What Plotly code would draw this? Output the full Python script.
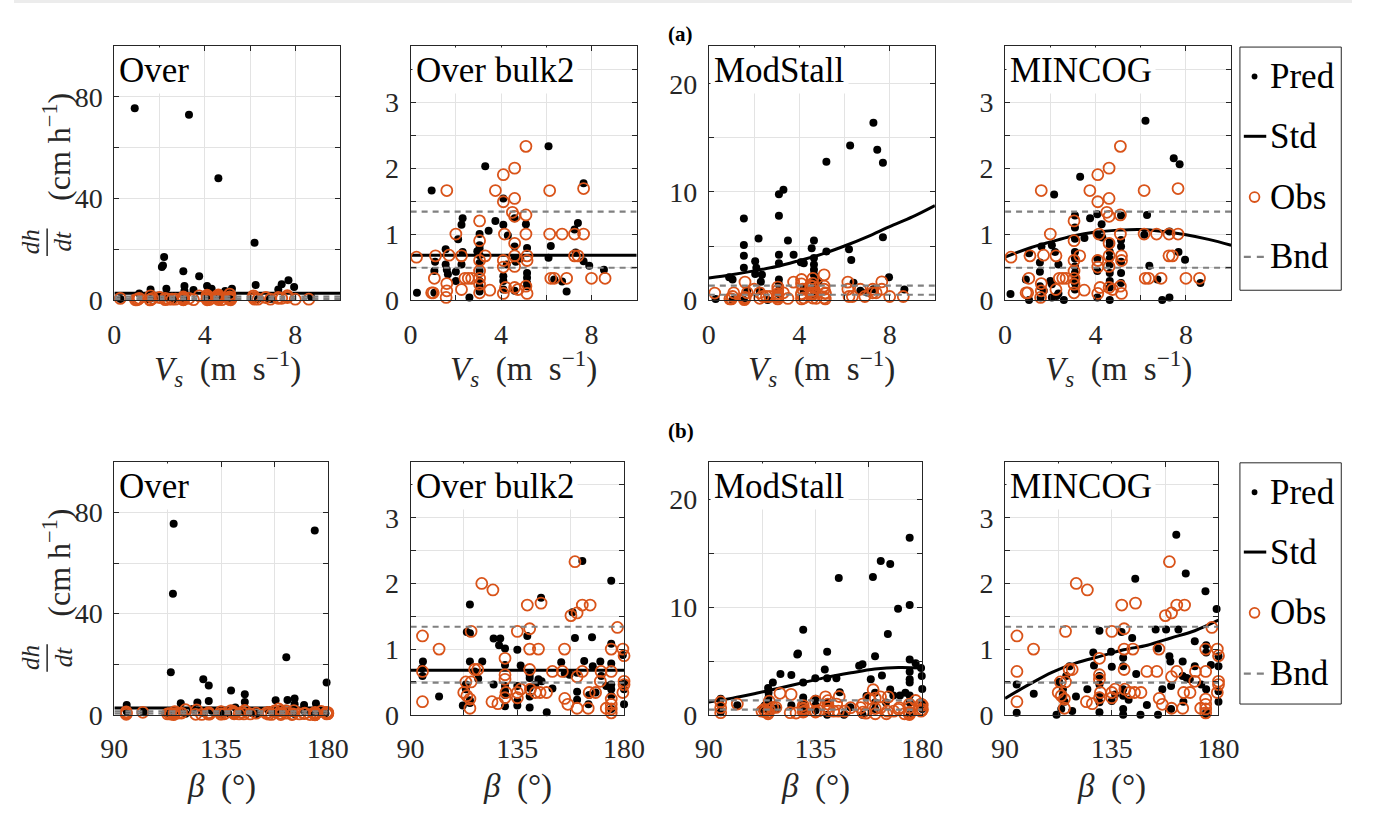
import plotly.graph_objects as go

W, H = 1373, 823
ORANGE = "#D95319"
GRAY = "#808080"
FONT = "Liberation Serif, Times New Roman, DejaVu Serif, serif"
AXC = "#262626"

# ---------------- data: row (a), wind speed Vs ----------------
vs_obs = [0.26, 0.93, 1.0, 1.05, 1.1, 1.6, 1.57, 1.6, 1.6, 1.7, 2.0, 2.25, 2.25, 2.4, 2.55, 2.7,
          3.05, 3.05, 3.05, 3.05, 3.05, 3.05, 3.05, 3.3, 3.5, 3.75, 4.1, 4.1, 4.15, 4.1, 4.1, 4.1, 4.2,
          4.6, 4.6, 4.5, 4.6, 4.6, 4.6, 4.6, 4.6, 4.75, 5.1, 5.1, 5.1, 5.15, 5.15, 5.1, 5.15,
          6.15, 6.15, 6.2, 6.35, 6.7, 6.9, 7.25, 7.25, 7.4, 7.65, 7.65, 8.0, 8.6]
obs_a = [0.65, 0.11, 0.11, 0.33, 0.67, 1.66, 0.04, 0.14, 0.25, 0.68, 1.0, 0.16, 0.67, 0.33, 0.33, 0.33,
         1.2, 0.9, 0.24, 0.11, 0.44, 0.33, 0.6, 0.67, 0.15, 1.66, 1.9, 1.49, 1.0, 0.6, 0.5, 0.1, 0.19,
         2.0, 1.54, 1.33, 1.27, 0.86, 0.67, 0.51, 0.19, 0.16, 2.33, 1.29, 1.0, 0.67, 0.6, 0.21, 0.1,
         1.66, 1.0, 0.33, 0.33, 1.0, 0.33, 1.0, 0.67, 0.67, 1.0, 1.69, 0.33, 0.33]

vs_over = [0.9, 3.3, 4.6, 6.2, 2.2, 2.15, 2.1, 3.05, 3.75, 6.25, 7.7, 7.4, 7.95, 7.25, 1.6, 2.3, 3.1, 3.1,
           4.1, 4.3, 5.2, 4.9, 3.5, 1.1, 0.27, 1.6, 1.6, 2.0, 2.3, 3.1, 3.1, 3.1, 4.1, 4.1, 4.4, 4.6,
           4.9, 5.15, 6.35, 6.85, 8.7, 1.5, 2.6, 4.6, 5.1, 7.0]
pred_over_a = [75.5, 73.0, 48.0, 22.6, 17.0, 13.6, 13.0, 11.3, 9.4, 5.9, 7.8, 6.2, 5.1, 4.2, 4.2, 4.5, 5.5, 3.6,
               5.5, 4.5, 4.5, 3.6, 4.0, 2.6, 0.4, 1.7, 0.6, 1.0, 1.0, 1.7, 0.4, 0.1, 1.7, 0.4, 1.0, 2.6,
               1.0, 1.2, 0.4, 0.4, 1.3, 0.3, 0.2, 0.1, 0.3, 0.5]

vs_bulk2 = [0.28, 0.93, 1.05, 1.08, 1.05, 1.55, 1.55, 1.6, 1.65, 2.0, 2.0, 2.1, 2.25, 2.3, 2.3, 2.25, 2.6,
            2.95, 3.05, 3.05, 3.05, 3.05, 3.05, 3.05, 3.05, 3.05, 3.05, 3.05, 3.3, 3.45, 3.75, 4.1, 4.1,
            4.1, 4.1, 4.1, 4.3, 4.25, 4.6, 4.6, 4.6, 4.65, 4.7, 4.85, 4.6, 5.1, 5.15, 5.15, 5.15, 5.15,
            5.15, 6.1, 6.2, 6.1, 6.35, 6.7, 6.9, 7.25, 7.4, 7.3, 7.65, 7.65, 7.9, 8.55]
pred_bulk2_a = [0.11, 1.66, 0.44, 0.58, 0.11, 0.77, 0.54, 0.46, 0.39, 0.43, 0.29, 0.92, 1.14, 1.24, 0.73, 0.54, 0.04,
                0.74, 1.0, 0.83, 0.78, 0.68, 0.56, 0.44, 0.29, 0.21, 0.16, 0.13, 2.03, 1.05, 1.2, 1.54, 1.14,
                0.36, 0.29, 0.16, 0.98, 0.54, 1.24, 0.81, 0.63, 0.58, 0.63, 0.63, 0.14, 1.15, 0.79, 0.41, 0.34, 0.26,
                0.21, 2.33, 0.82, 0.64, 0.31, 0.28, 0.13, 1.07, 1.17, 0.72, 1.77, 0.59, 0.52, 0.46]

vs_mod = [0.3, 0.9, 1.05, 1.05, 1.55, 1.55, 1.55, 1.55, 1.55, 1.7, 2.05, 2.1, 2.05, 2.2, 2.3, 2.35, 2.25, 2.6,
          3.1, 3.3, 3.1, 3.1, 3.1, 3.1, 3.1, 3.1, 3.1, 3.5, 3.75, 4.07, 4.2, 4.2, 4.2, 4.65, 4.55, 4.65, 4.65,
          4.65, 4.65, 4.65, 4.65, 4.65, 4.65, 4.85, 5.2, 5.2, 6.25, 6.2, 6.3, 6.4, 6.7, 7.0, 7.28, 7.45, 7.7,
          7.7, 7.28, 7.97, 8.65]
pred_mod_a = [0.1, 2.1, 1.9, 0.0, 7.55, 5.1, 4.1, 3.0, 0.0, 0.85, 3.6, 3.0, 2.4, 5.7, 1.7, 2.35, 0.85, 0.0,
              9.8, 10.2, 7.8, 4.2, 3.4, 1.9, 1.45, 0.85, 0.55, 5.5, 4.2, 3.5, 3.4, 1.15, 0.85, 5.5, 4.8, 3.9, 3.3,
              2.8, 2.35, 1.75, 1.45, 0.85, 0.4, 1.75, 12.8, 4.5, 14.3, 4.7, 3.7, 1.6, 0.85, 0.7, 16.4, 13.9, 12.7,
              5.8, 1.0, 2.1, 0.97]

vs_min = [0.24, 1.06, 0.92, 1.06, 1.54, 1.54, 1.54, 1.61, 1.57, 1.71, 2.07, 2.17, 2.0, 2.07, 2.21, 2.36, 2.28,
          2.07, 2.36, 2.6, 3.09, 3.09, 3.09, 3.09, 3.09, 3.09, 3.09, 3.09, 3.09, 3.09, 3.32, 3.51, 3.76, 4.08,
          4.08, 4.08, 4.08, 4.08, 4.27, 4.3, 4.63, 4.63, 4.63, 4.63, 4.63, 4.63, 4.63, 4.63, 4.63, 5.13, 5.13,
          5.13, 5.13, 5.13, 5.13, 6.21, 6.28, 6.16, 6.38, 6.74, 6.95, 7.27, 7.27, 7.46, 7.72, 7.67, 7.96, 8.64]
pred_min_a = [0.09, 0.71, 0.31, 0.0, 0.57, 0.43, 0.21, 0.81, 0.04, 0.14, 0.83, 1.6, 0.29, 0.24, 0.73, 0.54, 0.06,
              0.04, 0.1, 0.0, 1.28, 1.1, 0.93, 0.73, 0.63, 0.51, 0.41, 0.34, 0.26, 0.16, 1.87, 0.94, 1.24, 1.3,
              0.99, 0.63, 0.44, 0.04, 1.15, 0.95, 0.88, 0.83, 0.73, 0.63, 0.54, 0.41, 0.29, 0.19, 0.0, 1.28, 0.91,
              0.81, 0.58, 0.41, 0.26, 2.72, 1.29, 0.99, 0.52, 0.31, 0.0, 0.04, 1.04, 2.15, 2.06, 0.73, 0.61, 0.26]

vs_grid = [0, 1, 2, 3, 4, 5, 6, 7, 8, 9, 10]
std_over = [2.7] * 11
std_bulk2 = [0.68] * 11
std_mod_a = [2.05, 2.35, 2.7, 3.1, 3.65, 4.25, 5.0, 5.85, 6.8, 7.7, 8.75]
std_min_a = [0.65, 0.78, 0.88, 0.97, 1.03, 1.06, 1.07, 1.04, 0.99, 0.92, 0.83]

# ---------------- data: row (b), angle beta ----------------
beta_obs = [95, 95, 95, 102, 112.4, 113.3, 113.7, 115, 115, 115.5, 115.5, 117, 118.3, 120, 124.7, 124.3, 126.8,
            129.8, 129.8, 129.8, 129.8, 130.2, 135, 135, 135, 136.4, 139.2, 140.2, 140.2, 140.2, 140.5, 143.9,
            142.6, 145, 144.6, 147.3, 149.8, 154, 154.9, 155, 156.3, 157.6, 159.3, 160.2, 160.2, 160.2, 162.4,
            162.4, 164.9, 165.7, 165.3, 168, 170, 170.3, 172.5, 174.6, 174.6, 174.6, 174.6, 174.6, 174.6, 177.2,
            179.5, 180, 180, 180, 179.5]
obs_b = [1.2, 0.66, 0.2, 1.0, 0.34, 0.5, 0.29, 0.1, 0.24, 1.27, 0.5, 0.69, 0.69, 2.0, 1.9, 0.2, 0.17,
         0.86, 0.61, 0.54, 0.26, 0.34, 1.27, 0.34, 0.26, 0.39, 1.67, 1.31, 1.0, 0.69, 0.39, 1.0,
         0.34, 1.7, 0.34, 0.34, 0.66, 0.66, 1.0, 0.25, 0.16, 1.51, 2.33, 1.55, 0.58, 0.1, 1.67,
         0.66, 0.1, 1.67, 0.34, 0.34, 0.51, 0.66, 0.1, 1.0, 0.66, 0.24, 0.16, 0.09, 0.03, 1.33,
         1.0, 0.9, 0.51, 0.46, 0.34]

beta_over = [115, 114.7, 174.5, 162.5, 113.8, 127.5, 129.8, 139.2, 145, 179.5, 129.8, 118, 125, 145, 158, 163,
             166, 166, 170, 175, 95.2, 95.2, 102.4, 112, 114, 118, 123, 127, 131, 135, 138, 141, 144, 148, 155,
             158, 160, 163, 166, 170, 173, 176, 179, 150, 135, 120, 175]
pred_over_b = [75.5, 47.9, 72.9, 22.8, 16.8, 14.1, 11.6, 9.6, 8.1, 12.8, 5.5, 4.6, 4.9, 5.1, 5.8, 5.9,
               6.5, 4.2, 3.9, 4.5, 3.9, 1.3, 1.0, 0.5, 1.5, 1.2, 2.3, 0.8, 1.6, 2.0, 0.6, 2.9, 1.1, 0.7, 1.8,
               0.4, 2.5, 1.2, 0.3, 1.5, 0.8, 2.2, 0.6, 0.3, 0.2, 0.4, 1.0]

beta_bulk2 = [95.2, 95, 94.8, 102, 112, 113.3, 113.3, 113.7, 115, 115, 115, 115, 115, 117, 118.5, 120.2, 125, 125,
              127.8, 127.3, 129.8, 129.8, 129.8, 129.8, 129.8, 129.8, 135, 135, 135, 135, 136.4, 139.2, 140.2,
              140.2, 140.2, 140.2, 140.2, 142.6, 143.9, 145, 145.2, 147.4, 149.8, 153.5, 155, 157, 158.3, 159.3,
              160.2, 160.2, 160.2, 162.4, 163.2, 165.3, 165, 166.5, 166.8, 168, 170, 170.4, 172.5, 174.6, 174.6,
              174.6, 174.6, 174.6, 174.6, 174.6, 179.5, 180, 180, 180]
pred_bulk2_b = [0.81, 0.59, 0.71, 0.28, 0.14, 0.46, 0.39, 1.26, 1.68, 1.24, 0.81, 0.22, 0.18, 0.66, 0.55, 0.81, 0.46, 1.16,
                1.16, 1.06, 1.01, 0.76, 0.44, 0.36, 0.3, 0.13, 0.99, 0.44, 0.21, 0.14, 0.75, 1.2, 0.61,
                0.56, 0.41, 0.28, 0.11, 0.46, 0.54, 1.78, 0.51, 0.04, 0.4, 0.8, 0.63, 0.61, 1.56, 1.17,
                0.64, 0.35, 0.23, 2.34, 0.82, 0.3, 0.16, 1.18, 0.74, 0.34, 0.81, 0.59, 0.44, 2.04, 1.08,
                0.78, 0.46, 0.39, 0.29, 0.09, 0.91, 0.49, 0.39, 0.16]

beta_mod = [95, 95, 95, 102, 112.3, 113.5, 115, 115.2, 115.2, 115.2, 115.2, 115.2, 117, 118.8, 120.2, 124.8, 124.8,
            127.3, 127.6, 129.8, 129.8, 129.8, 129.8, 129.8, 129.8, 129.8, 134.9, 135, 135, 135, 138.9, 139.9,
            139.9, 139.9, 139.9, 143.8, 144.8, 145.2, 147, 149.7, 153.4, 154.8, 154.8, 156.5, 158.3, 159.2, 160.1,
            160.1, 160.1, 160.1, 162.5, 163, 164.7, 165.5, 166.5, 166.5, 167.8, 169.8, 170.6, 172.9, 174.7, 174.7,
            174.7, 174.7, 174.7, 174.7, 174.7, 174.7, 174.7, 177.2, 179.5, 179.8, 180, 180, 180]
pred_mod_b = [1.5, 0.9, 0.25, 0.9, 0.55, 0.85, 2.5, 2.05, 1.6, 1.15, 0.7, 0.4, 3.0, 0.6, 3.8, 3.7, 0.9,
              5.6, 5.7, 7.9, 3.0, 1.6, 1.2, 0.85, 0.55, 0.25, 3.4, 1.5, 0.9, 0.4, 4.2, 5.85,
              3.4, 0.0, 1.15, 3.4, 12.7, 2.1, 0.0, 0.7, 4.55, 4.7, 0.0, 1.75, 3.3, 12.8, 5.45,
              2.05, 1.15, 0.55, 14.3, 3.65, 1.15, 7.5, 14.0, 2.35, 1.8, 9.85, 1.8, 2.05, 16.45, 10.2,
              5.15, 4.0, 3.3, 3.0, 1.8, 1.15, 0.0, 4.8, 4.35, 3.6, 2.4, 1.15, 0.55]

beta_min = [94.9, 94.9, 102.1, 111.7, 112.8, 113.7, 114.4, 114.4, 114.4, 115.1, 115.8, 117.2, 118.3, 119.9, 124.7,
            127.2, 127.5, 129.8, 129.8, 129.8, 129.8, 129.8, 129.8, 134.7, 135, 135, 136.4, 139.1, 139.8, 139.8,
            139.8, 139.8, 139.8, 139.8, 142.1, 143.6, 144.9, 145.3, 147.1, 149.8, 153.5, 154.5, 154.5, 156.3,
            157.9, 159.3, 159.7, 160, 160, 162.2, 163.1, 164.9, 164.9, 165.2, 166.2, 166.6, 167.9, 170, 170,
            172.7, 174.5, 174.8, 174.8, 174.8, 174.8, 174.8, 176.8, 179.2, 180, 180, 180, 180]
pred_min_b = [0.46, 0.03, 0.32, 0.0, 0.5, 0.09, 0.39, 0.31, 0.26, 0.2, 0.59, 0.74, 0.06, 0.28, 0.39,
              0.95, 0.75, 1.28, 0.59, 0.46, 0.29, 0.19, 0.04, 0.96, 0.73, 0.21, 0.31, 1.26, 0.87, 0.74,
              0.39, 0.29, 0.09, 0.0, 0.23, 1.17, 2.07, 0.62, 0.0, 0.15, 1.3, 1.01, 0.0, 0.39,
              1.3, 0.89, 0.81, 0.44, 0.09, 2.74, 1.3, 0.81, 0.59, 0.2, 2.15, 0.56, 0.54, 1.12, 0.74,
              0.46, 1.88, 1.06, 0.95, 0.39, 0.04, 0.0, 0.76, 1.61, 0.89, 0.74, 0.36, 0.2]

beta_grid = [90, 100, 110, 120, 130, 140, 150, 160, 170, 180]
std_over_b = [2.7] * 10
std_bulk2_b = [0.68] * 10
std_mod_b = [1.2, 1.55, 2.0, 2.5, 3.0, 3.5, 3.9, 4.25, 4.4, 4.35]
std_min_b = [0.25, 0.46, 0.65, 0.79, 0.89, 0.99, 1.06, 1.17, 1.28, 1.44]

bnd = [0.49, 1.34]

model_names = ["Over", "Over bulk2", "ModStall", "MINCOG"]
legend_labels = ["Pred", "Std", "Obs", "Bnd"]

# y-axis per model: range, labelled tick step, grid (minor) step
y_cfg = [
    dict(range=[0, 100], dtick=40, minor=20),
    dict(range=[0, 3.85], dtick=1, minor=0.5),
    dict(range=[0, 23.5], dtick=10, minor=5),
    dict(range=[0, 3.85], dtick=1, minor=0.5),
]
x_cfg = {
    "a": dict(range=[0, 10], tick0=0, dtick=4, minor=2),
    "b": dict(range=[90, 180], tick0=90, dtick=45, minor=22.5),
}

rows = {
    "a": dict(top=47, bottom=306, width=232, xgrid=vs_grid, xobs=vs_obs, obs=obs_a,
              xpred=[vs_over, vs_bulk2, vs_mod, vs_min],
              pred=[pred_over_a, pred_bulk2_a, pred_mod_a, pred_min_a],
              std=[std_over, std_bulk2, std_mod_a, std_min_a],
              xtitle="<i>V<sub>s</sub></i>&nbsp;&nbsp;(m&nbsp;&nbsp;s<sup>−1</sup>)", tdy=70,
              leg_box=(48, 296), leg_y=[78, 139, 201, 262]),
    "b": dict(top=471, bottom=729, width=219, xgrid=beta_grid, xobs=beta_obs, obs=obs_b,
              xpred=[beta_over, beta_bulk2, beta_mod, beta_min],
              pred=[pred_over_b, pred_bulk2_b, pred_mod_b, pred_min_b],
              std=[std_over_b, std_bulk2_b, std_mod_b, std_min_b],
              xtitle="<i>β</i>&nbsp;&nbsp;(°)", tdy=73,
              leg_box=(472, 718), leg_y=[502, 563, 625, 687]),
}
col_left = [103, 407, 713, 1017]
GRIDC = "#e3e3e3"
tickfont = dict(family=FONT, size=28, color="#262626")


def px(x):
    return x / W


def py(y):
    return 1 - y / H


fig = go.Figure()
layout = {}
annotations = []
shapes = [dict(type="rect", xref="paper", yref="paper", x0=0, x1=1, y0=py(3), y1=1,
               fillcolor="#ececec", line=dict(width=0), layer="below")]
k = 0
for rkey, R in rows.items():
    xc = x_cfg[rkey]
    for c in range(4):
        k += 1
        xa = "x" if k == 1 else f"x{k}"
        ya = "y" if k == 1 else f"y{k}"
        xname = "xaxis" if k == 1 else f"xaxis{k}"
        yname = "yaxis" if k == 1 else f"yaxis{k}"
        yc = y_cfg[c]
        x0 = col_left[c]
        layout[xname] = dict(
            domain=[px(x0), px(x0 + R["width"])], anchor=ya, range=xc["range"],
            tick0=xc["tick0"], dtick=xc["dtick"],
            minor=dict(tick0=xc["tick0"], dtick=xc["minor"], showgrid=True, gridcolor=GRIDC,
                       ticks="inside", ticklen=5, tickcolor=AXC),
            showgrid=True, gridcolor=GRIDC, gridwidth=1, zeroline=False,
            showline=True, linecolor=AXC, linewidth=1, mirror="allticks",
            ticks="inside", ticklen=5, tickcolor=AXC,
            tickfont=tickfont, ticklabelstandoff=9,
        )
        layout[yname] = dict(
            domain=[py(R["bottom"]), py(R["top"])], anchor=xa, range=yc["range"],
            tick0=0, dtick=yc["dtick"],
            minor=dict(tick0=0, dtick=yc["minor"], showgrid=True, gridcolor=GRIDC,
                       ticks="inside", ticklen=5, tickcolor=AXC),
            showgrid=True, gridcolor=GRIDC, gridwidth=1, zeroline=False,
            showline=True, linecolor=AXC, linewidth=1, mirror="allticks",
            ticks="inside", ticklen=5, tickcolor=AXC,
            tickfont=tickfont, ticklabelstandoff=5,
        )
        xr = xc["range"]
        fig.add_trace(go.Scatter(
            x=R["xpred"][c], y=R["pred"][c], mode="markers", name="Pred",
            marker=dict(color="black", size=8), xaxis=xa, yaxis=ya, cliponaxis=False, showlegend=False))
        fig.add_trace(go.Scatter(
            x=R["xgrid"], y=R["std"][c], mode="lines", name="Std", line=dict(color="black", width=3, shape="spline"),
            xaxis=xa, yaxis=ya, showlegend=False))
        fig.add_trace(go.Scatter(
            x=R["xobs"], y=R["obs"], mode="markers", name="Obs",
            marker=dict(color="rgba(0,0,0,0)", size=11, line=dict(color=ORANGE, width=1.8)),
            xaxis=xa, yaxis=ya, cliponaxis=False, showlegend=False))
        fig.add_trace(go.Scatter(
            x=[xr[0], xr[1], None, xr[0], xr[1]], y=[bnd[0], bnd[0], None, bnd[1], bnd[1]],
            mode="lines", name="Bnd", line=dict(color=GRAY, width=2.2, dash="6px,5px"),
            xaxis=xa, yaxis=ya, showlegend=False))
        # panel name box
        annotations.append(dict(
            text=model_names[c], xref=f"{xa} domain", yref=f"{ya} domain", x=0, y=1,
            xanchor="left", yanchor="top", xshift=1, yshift=-1, showarrow=False,
            bgcolor="white", borderpad=3, font=dict(family=FONT, size=35, color="black")))
        # x axis title
        annotations.append(dict(
            text=R["xtitle"], xref="paper", yref="paper", x=px(x0 + R["width"] / 2),
            y=py(R["bottom"] + R["tdy"]), xanchor="center", yanchor="middle", showarrow=False,
            font=dict(family=FONT, size=33, color="#262626")))

    # y-axis title on first column: fraction dh/dt plus units
    frac_y = R["top"] + 200
    annotations.append(dict(
        text="<i>dh</i><br><i>dt</i>", xref="paper", yref="paper",
        x=px(34), y=py(frac_y), xanchor="center", yanchor="middle",
        textangle=-90, showarrow=False, font=dict(family=FONT, size=25, color="#262626")))
    shapes.append(dict(type="line", xref="paper", yref="paper", x0=px(34), x1=px(34),
                       y0=py(frac_y - 14), y1=py(frac_y + 14), line=dict(color="#262626", width=1.5)))
    annotations.append(dict(
        text="(cm&nbsp;h<sup>−1</sup>)", xref="paper", yref="paper",
        x=px(44), y=py(R["top"] + 103), xanchor="center", yanchor="middle",
        textangle=-90, showarrow=False, font=dict(family=FONT, size=32, color="#262626")))

    # ---- legend box for this row (Pred, Std, Obs, Bnd) ----
    b0, b1 = R["leg_box"]
    ly = R["leg_y"]
    shapes.append(dict(type="rect", xref="paper", yref="paper", x0=px(1258), x1=px(1362),
                       y0=py(b1), y1=py(b0), fillcolor="white", line=dict(color=AXC, width=1)))
    shapes.append(dict(type="circle", xref="paper", yref="paper", x0=px(1270), x1=px(1276),
                       y0=py(ly[0] + 3), y1=py(ly[0] - 3), fillcolor="black", line=dict(color="black", width=0)))
    shapes.append(dict(type="line", xref="paper", yref="paper", x0=px(1262), x1=px(1285),
                       y0=py(ly[1]), y1=py(ly[1]), line=dict(color="black", width=3)))
    shapes.append(dict(type="circle", xref="paper", yref="paper", x0=px(1268), x1=px(1278),
                       y0=py(ly[2] + 5), y1=py(ly[2] - 5), line=dict(color=ORANGE, width=1.8)))
    shapes.append(dict(type="line", xref="paper", yref="paper", x0=px(1262), x1=px(1286),
                       y0=py(ly[3]), y1=py(ly[3]), line=dict(color=GRAY, width=2.2, dash="7px,6px")))
    for lab, yy in zip(legend_labels, ly):
        annotations.append(dict(text=lab, xref="paper", yref="paper", x=px(1287), y=py(yy),
                                xanchor="left", yanchor="middle", showarrow=False,
                                font=dict(family=FONT, size=35, color="black")))

annotations.append(dict(text="<b>(a)</b>", xref="paper", yref="paper", x=px(684), y=py(20),
                        showarrow=False, font=dict(family=FONT, size=21, color="black")))
annotations.append(dict(text="<b>(b)</b>", xref="paper", yref="paper", x=px(684), y=py(440),
                        showarrow=False, font=dict(family=FONT, size=21, color="black")))

fig.update_layout(
    width=W, height=H, margin=dict(l=0, r=0, t=0, b=0),
    paper_bgcolor="white", plot_bgcolor="white", showlegend=False,
    annotations=annotations, shapes=shapes,
    **layout,
)
fig.write_html("out.html")
